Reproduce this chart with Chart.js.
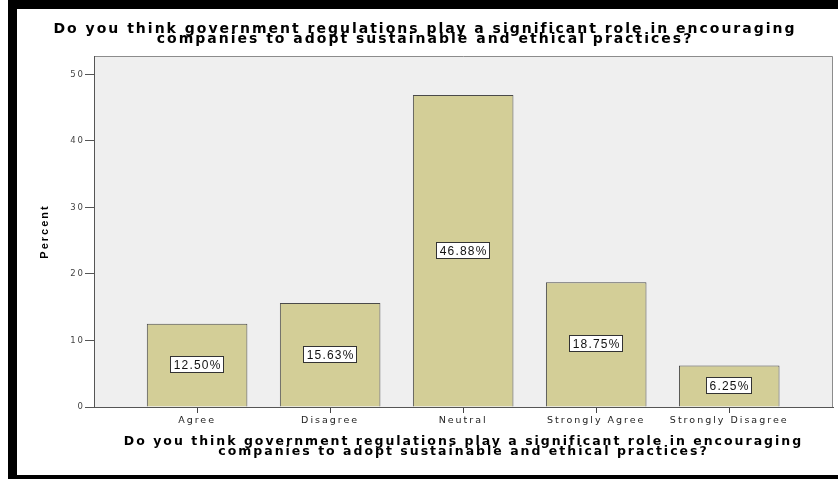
<!DOCTYPE html>
<html>
<head>
<meta charset="utf-8">
<script src="https://cdn.jsdelivr.net/npm/chart.js@4.4.1/dist/chart.umd.min.js"></script>
<style>
  html, body { margin: 0; padding: 0; background: #fff; }
  #frame {
    position: absolute; left: 8px; top: 0; width: 830px; height: 479px; box-sizing: border-box;
    border-top: 9px solid #000; border-left: 9px solid #000; border-bottom: 4px solid #000;
  }
  #box { position: relative; width: 821px; height: 466px; }
</style>
</head>
<body>
<div id="frame"><div id="box"><canvas id="chart"></canvas></div></div>
<script>
const categories = ['Agree', 'Disagree', 'Neutral', 'Strongly Agree', 'Strongly Disagree'];
const percents = [12.50, 15.63, 46.88, 18.75, 6.25];
const yTicks = [0, 10, 20, 30, 40, 50];
const question = [
    'Do you think government regulations play a significant role in encouraging',
    'companies to adopt sustainable and ethical practices?'
];

// grey plot background + thin frame, like the SPSS output
const plotFrame = {
    id: 'plotFrame',
    beforeDraw(chart) {
        const {ctx, chartArea: a} = chart;
        ctx.letterSpacing = '2px'; // the original text is spread out
        ctx.save();
        ctx.fillStyle = '#efefef';
        ctx.fillRect(a.left, a.top, a.right - a.left, a.bottom - a.top);
        ctx.strokeStyle = '#8c8c8c';
        ctx.lineWidth = 1;
        ctx.beginPath();
        ctx.moveTo(a.left, a.top + 0.5);
        ctx.lineTo(a.right - 0.5, a.top + 0.5);
        ctx.lineTo(a.right - 0.5, a.bottom);
        ctx.stroke();
        ctx.restore();
    }
};

// boxed percent labels in the middle of each bar
const valueLabels = {
    id: 'valueLabels',
    afterDatasetsDraw(chart) {
        const ctx = chart.ctx;
        const meta = chart.getDatasetMeta(0);
        ctx.save();
        ctx.font = '12px "Liberation Sans", Arial, sans-serif';
        ctx.letterSpacing = '1.2px';
        ctx.textAlign = 'center';
        ctx.textBaseline = 'middle';
        meta.data.forEach((bar, i) => {
            const text = percents[i].toFixed(2) + '%';
            const cx = Math.round(bar.x);
            const cy = Math.round((bar.y + bar.base) / 2);
            const w = Math.round(ctx.measureText(text).width) + 6;
            const h = 17;
            const x0 = cx - Math.round(w / 2);
            const y0 = cy - Math.round(h / 2);
            ctx.fillStyle = '#fff';
            ctx.fillRect(x0, y0, w, h);
            ctx.strokeStyle = '#333';
            ctx.lineWidth = 1;
            ctx.strokeRect(x0 + 0.5, y0 + 0.5, w - 1, h - 1);
            ctx.fillStyle = '#111';
            ctx.fillText(text, cx + 0.6, cy + 1);
        });
        ctx.restore();
    }
};

new Chart(document.getElementById('chart'), {
    type: 'bar',
    data: {
        datasets: [{
            data: categories.map((c, i) => ({x: i, y: percents[i]})),
            backgroundColor: '#d3ce97',
            borderColor: '#4a4a4a',
            borderWidth: 1,
            barPercentage: 0.756,
            categoryPercentage: 1
        }]
    },
    options: {
        responsive: true,
        maintainAspectRatio: false,
        animation: false,
        layout: { padding: { right: 5 } },
        plugins: {
            legend: { display: false },
            tooltip: { enabled: false },
            title: {
                display: true,
                text: question,
                color: '#000',
                font: { family: 'DejaVu Sans', size: 14, weight: 'bold', lineHeight: '9.5px' },
                padding: { top: 16, bottom: 12 }
            }
        },
        scales: {
            x: {
                type: 'linear',
                min: -0.775,
                max: 4.78,
                bounds: 'data',
                offset: false,
                afterBuildTicks: s => { s.ticks = categories.map((c, i) => ({ value: i })); },
                afterFit: s => { s.height = 68; },
                grid: { drawOnChartArea: false, offset: false, tickLength: 6, tickColor: '#444' },
                border: { display: true, color: '#555' },
                ticks: {
                    autoSkip: false, maxRotation: 0, padding: 2, color: '#222',
                    font: { family: 'DejaVu Sans', size: 9.5 },
                    callback: v => categories[v]
                },
                title: {
                    display: true,
                    text: question,
                    color: '#000',
                    font: { family: 'DejaVu Sans', size: 12.5, weight: 'bold', lineHeight: '9.5px' },
                    padding: { top: 0, bottom: 19 }
                }
            },
            y: {
                min: 0,
                max: 52.75,
                bounds: 'data',
                afterBuildTicks: s => { s.ticks = yTicks.map(v => ({ value: v })); },
                afterFit: s => { s.width = 77; },
                grid: { drawOnChartArea: false, tickLength: 9, tickColor: '#555' },
                border: { display: true, color: '#555' },
                ticks: { padding: 0, color: '#444', font: { family: 'DejaVu Sans', size: 8.5 } },
                title: {
                    display: true,
                    text: 'Percent',
                    color: '#000',
                    font: { family: 'Liberation Sans', size: 11, weight: 'bold' },
                    padding: { top: 21, bottom: 0 }
                }
            }
        }
    },
    plugins: [plotFrame, valueLabels]
});
</script>
</body>
</html>
